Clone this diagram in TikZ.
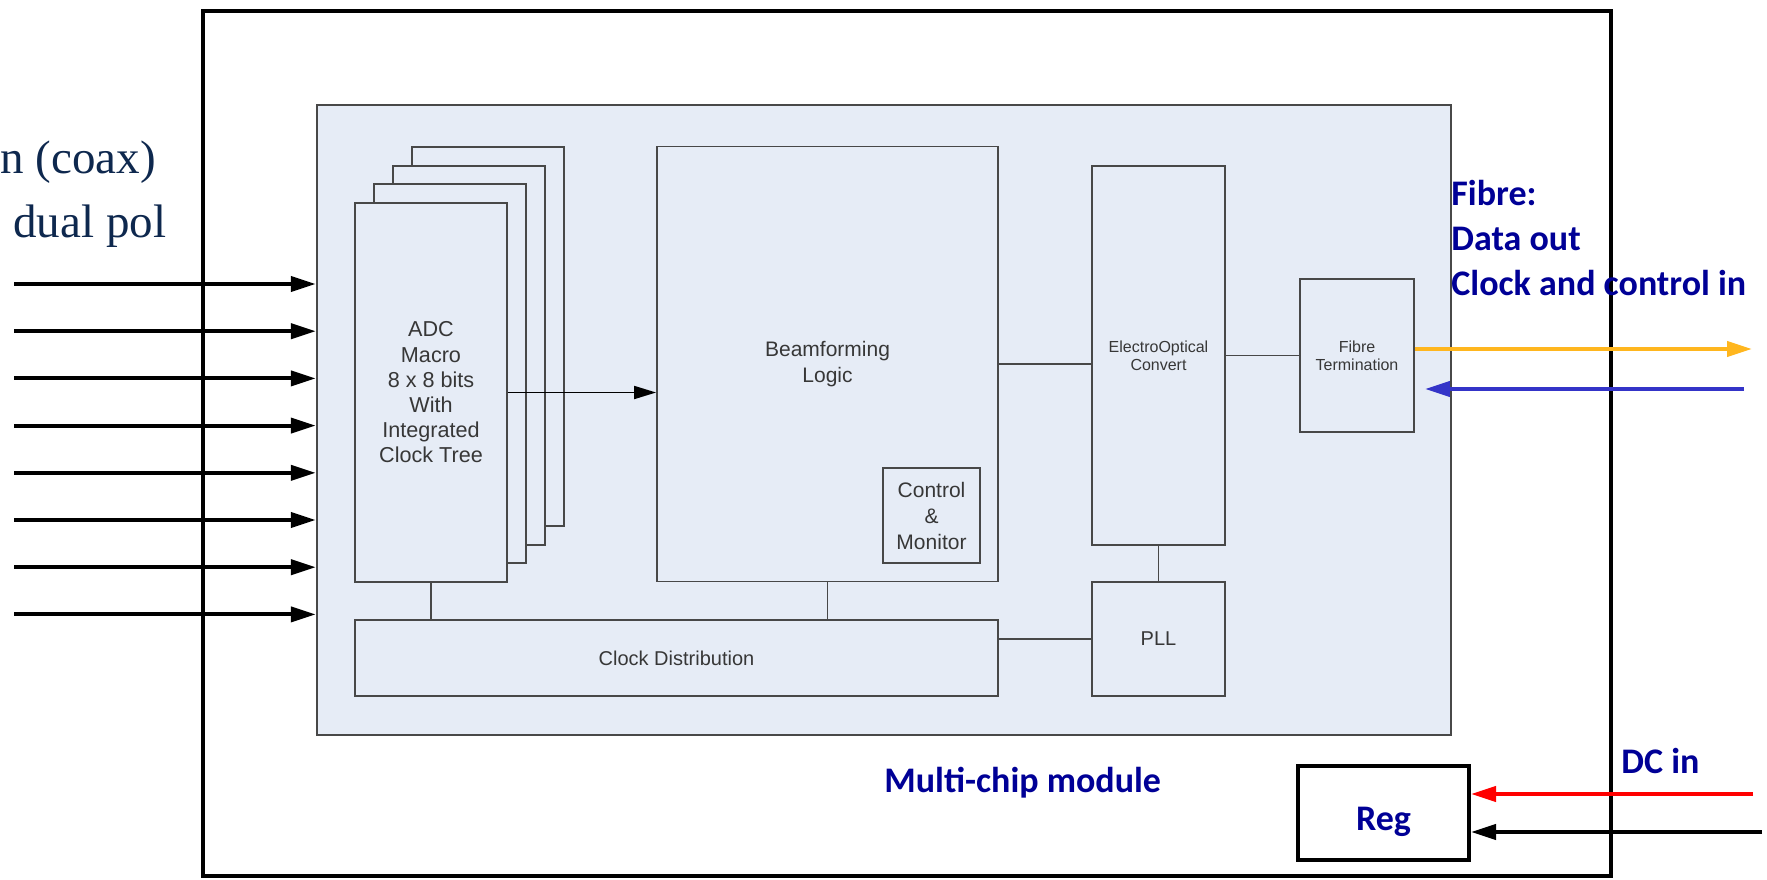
\documentclass[tikz,border=0pt]{standalone}
\usepackage{fontspec}
\setmainfont{Liberation Sans}
\newfontfamily\serifface{Liberation Serif}
\newfontfamily\labelface{Carlito}
\usetikzlibrary{arrows.meta}

\definecolor{panel}{RGB}{230,236,246}
\definecolor{edge}{RGB}{72,72,72}
\definecolor{ink}{RGB}{55,55,55}
\definecolor{navy}{RGB}{14,40,78}
\definecolor{labelblue}{RGB}{0,0,150}
\definecolor{dataorange}{RGB}{255,182,30}
\definecolor{clockblue}{RGB}{52,52,200}

\begin{document}
\begin{tikzpicture}[x=0.5pt,y=-0.5pt,
  blk/.style={draw=edge, fill=panel, line width=0.9pt, inner sep=0pt,
    font=\fontsize{10.5}{13}\selectfont, text=ink, align=center},
  small/.style={font=\fontsize{8}{9}\selectfont},
  wire/.style={draw=edge, line width=0.8pt},
  bigarrow/.style={line width=2pt, -{Triangle[length=12.5pt,width=7.5pt]}},
  lbl/.style={font=\labelface\bfseries\fontsize{18}{22}\selectfont,
    text=labelblue, inner sep=0pt, anchor=base west},
  serif/.style={font=\serifface\fontsize{23.5}{28}\selectfont,
    text=navy, inner sep=0pt, anchor=base west},
]
\useasboundingbox (0,0) rectangle (1767,879);

% module outline and multi-chip substrate
\node[draw=black, line width=2pt, minimum width=704pt, minimum height=432.5pt,
  inner sep=0pt] (board) at (907,443.5) {};
\node[draw=edge, fill=panel, line width=1.2pt, minimum width=567pt,
  minimum height=315pt, inner sep=0pt] (inner) at (884,420) {};

% ADC stack (back to front)
\node[blk, minimum width=76pt, minimum height=189.5pt] (adc4) at (488,336.4) {};
\node[blk, minimum width=76pt, minimum height=189.5pt] (adc3) at (469,355.1) {};
\node[blk, minimum width=76pt, minimum height=189.5pt] (adc2) at (450,373.8) {};
\node[blk, minimum width=76pt, minimum height=189.5pt,
  font=\fontsize{10.8}{12.6}\selectfont] (adc1) at (431,392.5)
  {ADC\\Macro\\8 x 8 bits\\With\\Integrated\\Clock Tree};

% processing blocks
\node[blk, minimum width=170.5pt, minimum height=217.5pt] (bf) at (827.5,364)
  {Beamforming\\Logic};
\node[blk, minimum width=48.5pt, minimum height=47.5pt] (cm) at (931.5,515.5)
  {Control\\\&\\Monitor};
\node[blk, small, minimum width=66.5pt, minimum height=189.5pt] (eo) at (1158.5,355.5)
  {ElectroOptical\\Convert};
\node[blk, small, minimum width=57pt, minimum height=76.5pt] (ft) at (1357,355.5)
  {Fibre\\Termination};
\node[blk, font=\fontsize{10}{12}\selectfont, minimum width=321.5pt,
  minimum height=38pt] (cd) at (676.5,658) {Clock Distribution};
\node[blk, font=\fontsize{10}{12}\selectfont, minimum width=66.5pt,
  minimum height=57pt] (pll) at (1158.5,639) {PLL};

% regulator
\node[draw=black, line width=2pt, minimum width=85.5pt, minimum height=47pt,
  inner sep=0pt, font=\labelface\bfseries\fontsize{18}{22}\selectfont,
  text=labelblue, text height=17pt, text depth=0pt] (reg) at (1383.5,813) {Reg};

% internal connections
\draw[black, line width=0.9pt, -{Triangle[length=11pt,width=6.5pt]}]
  (adc1.east) -- (adc1.east -| bf.west);
\draw[wire] (bf.east) -- (bf.east -| eo.west);
\draw[wire] (eo.east) -- (ft.west);
\draw[wire] (eo.south) -- (pll.north);
\draw[wire] (pll.west) -- (pll.west -| cd.east);
\draw[wire] (adc1.south) -- (adc1.south |- cd.north);
\draw[wire] (bf.south) -- (bf.south |- cd.north);

% coax inputs
\foreach \k in {1,...,8} {
  \coordinate (in\k) at (14,{284+47.2*(\k-1)});
  \draw[bigarrow] (in\k) -- (in\k -| inner.west);
}

% fibre links
\coordinate (dataout) at (1752,349);
\coordinate (clkin) at (1744,389);
\draw[bigarrow, draw=dataorange, fill=dataorange] (ft.east |- dataout) -- (dataout);
\draw[bigarrow, draw=clockblue, fill=clockblue, shorten >=5pt] (clkin) -- (ft.east |- clkin);

% power feed
\coordinate (dcin) at (1753,794);
\coordinate (dcret) at (1762,832);
\draw[bigarrow, draw=red, fill=red] (dcin) -- (reg.east |- dcin);
\draw[bigarrow] (dcret) -- (reg.east |- dcret);

% labels
\node[serif] (coax) at (0,173) {n (coax)};
\node[serif] (pol) at (13,237) {dual pol};
\node[lbl] (fibre) at (1451,205) {Fibre:};
\node[lbl] (data) at (1451,250) {Data out};
\node[lbl] (clock) at (1451,295) {Clock and control in};
\node[lbl] (mcm) at (884,792) {Multi-chip module};
\node[lbl] (dc) at (1621,773) {DC in};
\end{tikzpicture}
\end{document}
